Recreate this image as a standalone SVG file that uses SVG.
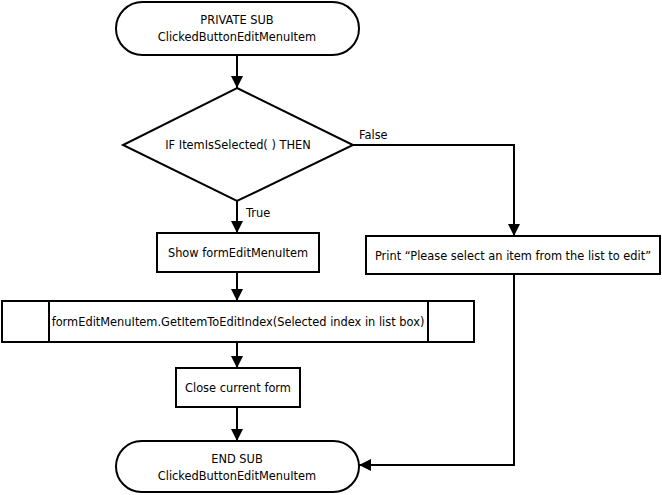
<svg xmlns="http://www.w3.org/2000/svg" width="662" height="495" viewBox="0 0 662 495">
<defs>
<marker id="ah" markerWidth="12" markerHeight="12" viewBox="0 0 12 12" refX="12" refY="6" orient="auto" markerUnits="userSpaceOnUse">
<path d="M0,0 L12,6 L0,12 Z" fill="#000"/>
</marker>
<style>
.s{fill:#fff;stroke:#000;stroke-width:2}
.c{fill:none;stroke:#000;stroke-width:2;marker-end:url(#ah)}
.t{font-family:"DejaVu Sans",Verdana,sans-serif;font-size:11.4px;fill:#000;text-anchor:middle}
.l{font-family:"DejaVu Sans",Verdana,sans-serif;font-size:11.4px;fill:#000}
</style>
</defs>
<rect width="662" height="495" fill="#fff"/>
<g id="connectors">
<path class="c" d="M237,55 V88"/>
<path class="c" d="M237,201 V233"/>
<path class="c" d="M237,272 V301"/>
<path class="c" d="M237,342 V368"/>
<path class="c" d="M237,407 V441"/>
<path class="c" d="M353,145 H514 V236"/>
<path class="c" d="M514,274 V465 H359"/>
<text class="l" x="246" y="217">True</text>
<text class="l" x="359" y="139">False</text>
</g>
<g id="start">
<rect class="s" x="116" y="2" width="243" height="53" rx="26.5"/>
<text class="t" x="237" y="24">PRIVATE SUB</text>
<text class="t" x="237" y="41">ClickedButtonEditMenuItem</text>
</g>
<g id="decision">
<polygon class="s" points="237,88 353,145 237,201 123,145"/>
<text class="t" x="238" y="149">IF ItemIsSelected( ) THEN</text>
</g>
<g id="show">
<rect class="s" x="157" y="233" width="162" height="39"/>
<text class="t" x="238" y="257">Show formEditMenuItem</text>
</g>
<g id="getitem">
<rect class="s" x="2" y="301" width="472" height="41"/>
<path d="M49,301 V342 M428,301 V342" stroke="#000" stroke-width="2"/>
<text class="t" x="238" y="326">formEditMenuItem.GetItemToEditIndex(Selected index in list box)</text>
</g>
<g id="close">
<rect class="s" x="176" y="368" width="124" height="39"/>
<text class="t" x="238" y="392">Close current form</text>
</g>
<g id="print">
<rect class="s" x="366" y="236" width="294" height="38"/>
<text class="t" x="513" y="260">Print “Please select an item from the list to edit”</text>
</g>
<g id="end">
<rect class="s" x="116" y="441" width="243" height="51" rx="25.5"/>
<text class="t" x="237" y="463">END SUB</text>
<text class="t" x="237" y="480">ClickedButtonEditMenuItem</text>
</g>
</svg>
